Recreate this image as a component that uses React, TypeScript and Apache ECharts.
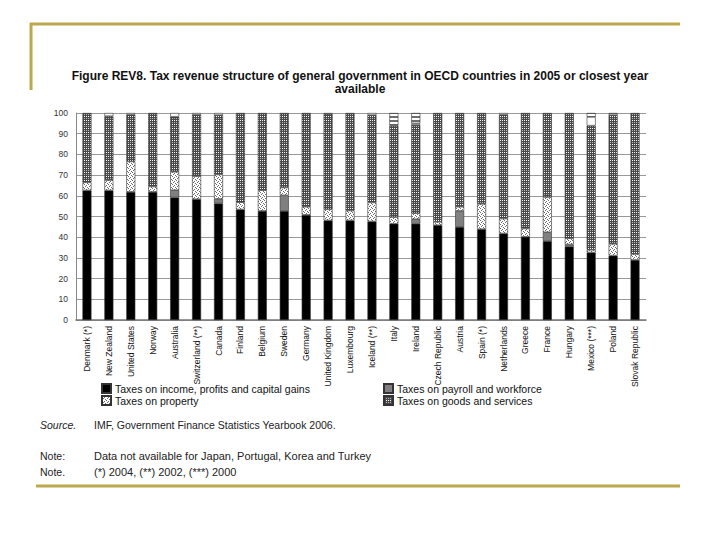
import React, { useEffect, useRef } from "react";
import * as echarts from "echarts";

const countries = [
  "Denmark (*)", "New Zealand", "United States", "Norway", "Australia",
  "Switzerland (**)", "Canada", "Finland", "Belgium", "Sweden", "Germany",
  "United Kingdom", "Luxembourg", "Iceland (**)", "Italy", "Ireland",
  "Czech Republic", "Austria", "Spain (*)", "Netherlands", "Greece", "France",
  "Hungary", "Mexico (***)", "Poland", "Slovak Republic",
];
const income = [62.6, 62.6, 61.9, 61.9, 59.2, 58.4, 56.3, 53.4, 52.7, 52.7, 50.8, 48.1, 48.1, 47.6, 46.5, 46.5, 45.8, 45.0, 43.9, 41.8, 40.2, 38.1, 35.5, 32.6, 31.1, 29.0];
const payroll = [0, 0, 0, 0, 3.5, 0, 2.2, 0, 0, 7.5, 0, 0, 0, 0, 0, 2.2, 0, 7.7, 0, 0, 0, 4.3, 1.0, 0, 0, 0];
const property = [3.9, 5.0, 14.7, 2.6, 8.9, 11.1, 11.8, 3.5, 10.0, 3.8, 3.9, 5.4, 4.8, 9.2, 3.2, 2.9, 1.6, 2.0, 12.2, 7.2, 4.0, 17.0, 3.0, 1.3, 5.7, 2.9];
const goods = [33.5, 30.9, 22.6, 35.5, 26.6, 29.7, 28.7, 43.1, 37.3, 36.0, 45.3, 46.0, 47.1, 42.2, 44.2, 42.6, 52.6, 45.3, 43.9, 50.2, 55.8, 40.6, 60.5, 60.0, 62.2, 68.1];
const other = [0, 1.5, 0.8, 0, 1.8, 0.8, 1.0, 0, 0, 0, 0, 0.5, 0, 1.0, 0, 0.8, 0, 0, 0, 0.8, 0, 0, 0, 4.2, 0, 0];
const striped = [0, 0, 0, 0, 0, 0, 0, 0, 0, 0, 0, 0, 0, 0, 6.1, 5.0, 0, 0, 0, 0, 0, 0, 0, 1.9, 1.0, 0];

const legendLeft = ["Taxes on income, profits and capital gains", "Taxes on property"];
const legendRight = ["Taxes on payroll and workforce", "Taxes on goods and services"];

function makePattern(rows: string[], palette: Record<string, string>) {
  const h = rows.length;
  const w = rows[0].length;
  const c = document.createElement("canvas");
  c.width = w;
  c.height = h;
  const ctx = c.getContext("2d")!;
  for (let y = 0; y < h; y++) {
    for (let x = 0; x < w; x++) {
      ctx.fillStyle = palette[rows[y][x]];
      ctx.fillRect(x, y, 1, 1);
    }
  }
  return { image: c.toDataURL(), repeat: "repeat", imageWidth: w, imageHeight: h } as any;
}

const nz = (a: number[]) => a.map((v) => (v === 0 ? "-" : v));

export default function App() {
  const ref = useRef<HTMLDivElement>(null);
  useEffect(() => {
    if (!ref.current) return;
    const chart = echarts.init(ref.current, undefined, { renderer: "svg" });

    const checker = makePattern(["wkwk", "kkkk", "gkgk", "kkkk"], { w: "#ffffff", k: "#484848", g: "#b8b8b8" });
    const dotted = makePattern(["dwww", "wwdw", "wdww", "wwwd"], { w: "#ffffff", d: "#6a6a6a" });
    const stripes = makePattern(["gg", "gg", "ww", "ww"], { g: "#6e6e6e", w: "#ffffff" });

    const border = { borderColor: "#333", borderWidth: 0.6 };
    const mk = (name: string, data: number[], color: any) => ({
      name,
      type: "bar",
      stack: "total",
      barWidth: 9,
      data: nz(data),
      itemStyle: { color, ...border },
      emphasis: { disabled: true },
    });

    const lineColor = "#bba94c";
    const textFont = "'Liberation Sans', Arial, sans-serif";

    chart.setOption({
      animation: false,
      backgroundColor: "#ffffff",
      title: {
        text: "Figure REV8. Tax revenue structure of general government in OECD countries in 2005 or closest year\navailable",
        left: 355,
        top: 64,
        textAlign: "center",
        textStyle: { fontSize: 12, fontWeight: "bold", color: "#111", fontFamily: textFont, lineHeight: 13 },
      },
      legend: [
        {
          data: legendLeft,
          left: 96,
          top: 378,
          orient: "vertical",
          itemWidth: 9,
          itemHeight: 9,
          itemGap: 1,
          icon: "rect",
          selectedMode: false,
          textStyle: { fontSize: 10.5, color: "#111", fontFamily: textFont, padding: [0, 0, 0, -1] },
        },
        {
          data: legendRight,
          left: 378,
          top: 378,
          orient: "vertical",
          itemWidth: 9,
          itemHeight: 9,
          itemGap: 1,
          icon: "rect",
          selectedMode: false,
          textStyle: { fontSize: 10.5, color: "#111", fontFamily: textFont, padding: [0, 0, 0, -1] },
        },
      ],
      grid: { left: 76, top: 113, width: 570, height: 207 },
      xAxis: {
        type: "category",
        data: countries,
        axisLine: { lineStyle: { color: "#777", width: 1.5 } },
        axisTick: { show: false },
        axisLabel: {
          rotate: 90,
          interval: 0,
          fontSize: 8.5,
          margin: 6,
          color: "#111",
          fontFamily: textFont,
        },
      },
      yAxis: {
        type: "value",
        min: 0,
        max: 100,
        interval: 10,
        axisLine: { show: true, lineStyle: { color: "#888" } },
        axisTick: { show: false },
        splitLine: { lineStyle: { color: "#999", width: 1 } },
        axisLabel: { fontSize: 8.5, color: "#333", margin: 8, fontFamily: textFont },
      },
      series: [
        mk("Taxes on income, profits and capital gains", income, "#000000"),
        mk("Taxes on payroll and workforce", payroll, "#808080"),
        mk("Taxes on property", property, dotted),
        mk("Taxes on goods and services", goods, checker),
        mk("Other", other, "#ffffff"),
        mk("Other (striped)", striped, stripes),
      ],
      graphic: [
        { type: "line", shape: { x1: 30, y1: 24, x2: 680, y2: 24 }, style: { stroke: lineColor, lineWidth: 3 } },
        { type: "line", shape: { x1: 31, y1: 23, x2: 31, y2: 90 }, style: { stroke: lineColor, lineWidth: 3 } },
        { type: "line", shape: { x1: 36, y1: 486, x2: 680, y2: 486 }, style: { stroke: lineColor, lineWidth: 3 } },
        { type: "text", x: 40, y: 425, style: { text: "Source.", font: `italic 10.5px ${textFont}`, fill: "#222", textVerticalAlign: "middle" } },
        { type: "text", x: 94, y: 425, style: { text: "IMF, Government Finance Statistics Yearbook 2006.", font: `10.5px ${textFont}`, fill: "#222", textVerticalAlign: "middle" } },
        { type: "text", x: 40, y: 456, style: { text: "Note:", font: `10.5px ${textFont}`, fill: "#222", textVerticalAlign: "middle" } },
        { type: "text", x: 94, y: 456, style: { text: "Data not available for Japan, Portugal, Korea and Turkey", font: `11px ${textFont}`, fill: "#222", textVerticalAlign: "middle" } },
        { type: "text", x: 40, y: 472, style: { text: "Note.", font: `10.5px ${textFont}`, fill: "#222", textVerticalAlign: "middle" } },
        { type: "text", x: 94, y: 472, style: { text: "(*) 2004, (**) 2002, (***) 2000", font: `11px ${textFont}`, fill: "#222", textVerticalAlign: "middle" } },
      ],
    });
    return () => chart.dispose();
  }, []);
  return <div ref={ref} style={{ position: "fixed", left: 0, top: 0, width: 720, height: 540 }} />;
}
